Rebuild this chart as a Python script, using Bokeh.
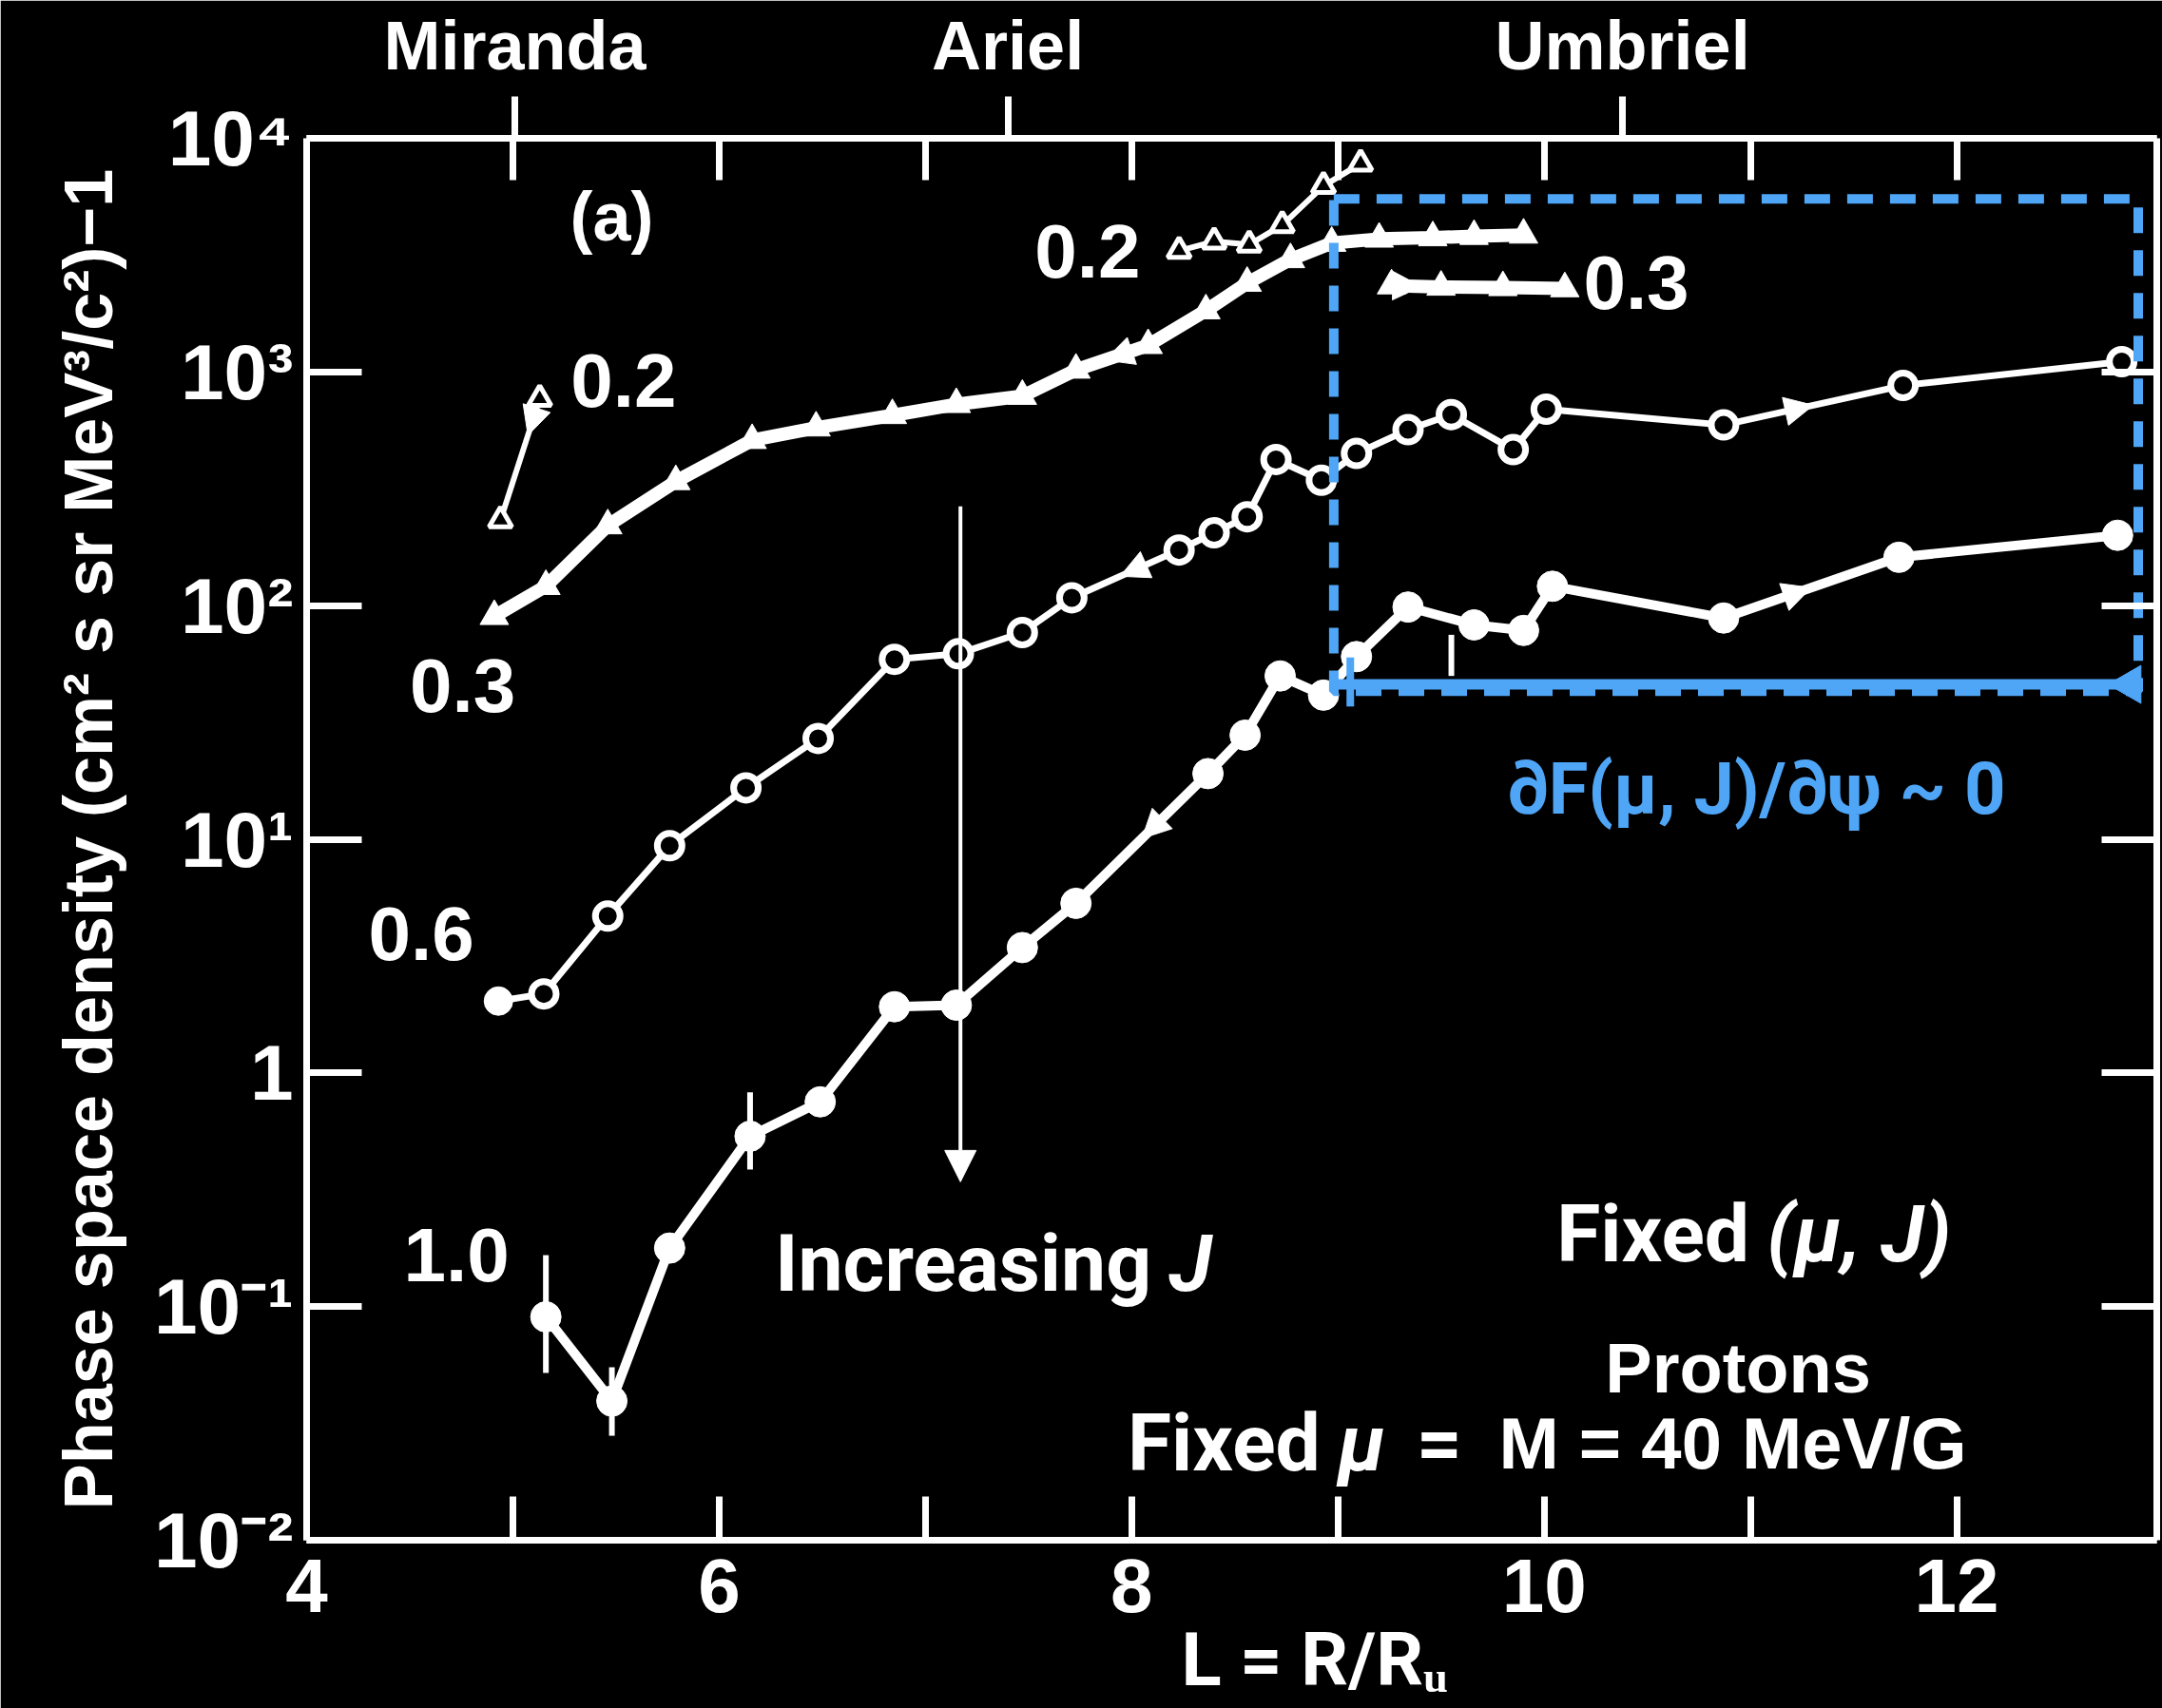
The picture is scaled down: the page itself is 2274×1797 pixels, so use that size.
import numpy as np
from bokeh.plotting import figure
from bokeh.models import (Range1d, LinearAxis, LogAxis, FixedTicker, ColumnDataSource,
                          Arrow, NormalHead, Label, Title)
from bokeh.embed import file_html
from bokeh.resources import INLINE

# ---------------- data (L = R/Ru, phase space density) ----------------
L_03a = [4.91, 5.16, 5.46, 5.79, 6.16, 6.47, 6.84, 7.15, 7.47, 7.73, 8.08, 8.36, 8.56, 8.77, 8.97, 9.20, 9.46, 9.66, 9.90]
F_03a = [90, 121, 220, 340, 510, 577, 652, 727, 788, 1020, 1300, 1830, 2400, 3030, 3560, 3710, 3760, 3810, 3860]

L_03b = [9.26, 9.50, 9.80, 10.10]
F_03b = [2340, 2310, 2300, 2275]

L_02lo = [5.13, 4.94]
F_02lo = [767, 232]

L_02hi = [8.23, 8.40, 8.57, 8.73, 8.93, 9.11]
F_02hi = [3300, 3620, 3510, 4250, 6250, 7790]

L_06 = [4.93, 5.15, 5.46, 5.76, 6.13, 6.48, 6.85, 7.16, 7.47, 7.71, 8.23, 8.40, 8.56, 8.70, 8.92, 9.09,
        9.34, 9.55, 9.85, 10.01, 10.87, 11.74, 12.80]
F_06 = [2.03, 2.18, 4.69, 9.38, 16.6, 27.0, 58.9, 62.2, 76.7, 108, 173, 205, 240, 422, 344, 448,
        566, 657, 465, 693, 593, 875, 1107]

L_10 = [5.16, 5.48, 5.76, 6.15, 6.49, 6.85, 7.15, 7.47, 7.73, 8.37, 8.55, 8.72, 8.93, 9.09, 9.34, 9.66,
        9.90, 10.04, 10.87, 11.72, 12.78]
F_10 = [0.0904, 0.0394, 0.178, 0.536, 0.752, 1.92, 1.95, 3.44, 5.32, 19.1, 27.9, 50.0, 41.4, 60.5, 98.6, 82.7,
        78.3, 121, 88.5, 161, 200]

L_err = [5.16, 5.48, 6.15, 9.55]
F_err_lo = [0.052, 0.028, 0.386, 50]
F_err_hi = [0.166, 0.055, 0.826, 75]

# curve labels (J values)
curve_labels = ["0.2", "0.3", "0.6", "1.0", "0.2", "0.3"]
curve_label_L = [5.28, 4.50, 4.30, 4.47, 7.53, 10.19]
curve_label_F = [916, 45.5, 3.94, 0.166, 3281, 2403]

# axes
y_ticks = [1e-2, 1e-1, 1, 10, 100, 1000, 10000]
y_tick_labels = ["10⁻²", "10⁻¹", "1", "10¹", "10²", "10³", "10⁴"]
x_ticks = [4, 6, 8, 10, 12]
x_minor = [5, 7, 9, 11]
top_minor = [5, 6, 7, 8, 9, 10, 11, 12]
moon_L = [5.01, 7.40, 10.38]
moon_names = ["Miranda", "Ariel", "Umbriel"]

# annotation region (dF/dpsi ~ 0)
box_L = [8.98, 12.88]
box_F = [43, 5500]

WHITE = "#ffffff"
BLUE = "#4fa5f6"
FIG_FONT = "Liberation Sans"
ANN_FONT = "Roboto"

p = figure(width=2274, height=1797, y_axis_type="log",
           x_axis_location=None, y_axis_location=None,
           x_range=Range1d(4, 12.97), y_range=Range1d(1e-2, 1e4),
           output_backend="svg", toolbar_location=None,
           background_fill_color="black", border_fill_color="black",
           min_border_left=322, min_border_right=6, min_border_top=145, min_border_bottom=177)
p.grid.visible = False
p.outline_line_color = None


def style_axis(ax, size="82px"):
    ax.axis_line_color = WHITE
    ax.axis_line_width = 7
    ax.major_tick_line_color = WHITE
    ax.major_tick_line_width = 7
    ax.minor_tick_line_color = WHITE
    ax.minor_tick_line_width = 7
    ax.major_label_text_color = WHITE
    ax.major_label_text_font = FIG_FONT
    ax.major_label_text_font_style = "bold"
    ax.major_label_text_font_size = size
    ax.axis_label_text_color = WHITE


left = LogAxis(ticker=FixedTicker(ticks=y_ticks),
               major_label_overrides=dict(zip(y_ticks, y_tick_labels)))
style_axis(left)
left.major_tick_in = 58
left.major_tick_out = 0
left.minor_tick_in = 0
left.minor_tick_out = 0
left.major_label_standoff = 14
left.axis_label = "Phase space density (cm² s sr MeV³/c²)−1"
left.axis_label_text_font = FIG_FONT
left.axis_label_text_font_style = "bold"
left.axis_label_text_font_size = "72px"
left.axis_label_standoff = 26
p.add_layout(left, "left")

right = LogAxis(ticker=FixedTicker(ticks=y_ticks),
                major_label_overrides={t: " " for t in y_ticks})
style_axis(right, "2px")
right.major_tick_in = 58
right.major_tick_out = 0
right.minor_tick_in = 0
right.minor_tick_out = 0
right.major_label_text_color = "black"
right.major_label_standoff = 0
p.add_layout(right, "right")

bottom = LinearAxis(ticker=FixedTicker(ticks=x_ticks, minor_ticks=x_minor))
style_axis(bottom, "80px")
bottom.major_tick_in = 46
bottom.major_tick_out = 0
bottom.minor_tick_in = 46
bottom.minor_tick_out = 0
bottom.major_label_standoff = 20
p.add_layout(bottom, "below")

p.add_layout(Title(text="L = R/Rᵤ", align="left", offset=920, standoff=0,
                   text_font=ANN_FONT, text_font_size="78px", text_font_style="bold",
                   text_color=WHITE), "below")

top = LinearAxis(ticker=FixedTicker(ticks=moon_L, minor_ticks=top_minor),
                 major_label_overrides=dict(zip(moon_L, moon_names)))
style_axis(top, "72px")
top.major_tick_in = 0
top.major_tick_out = 44
top.minor_tick_in = 44
top.minor_tick_out = 0
top.major_label_standoff = 14
p.add_layout(top, "above")

# ---------------- curves ----------------
p.line(L_03a, F_03a, line_color=WHITE, line_width=14)
p.scatter(L_03a, F_03a, marker="triangle", size=30, fill_color=WHITE, line_color=WHITE)
p.line(L_03b, F_03b, line_color=WHITE, line_width=14)
p.scatter(L_03b, F_03b, marker="triangle", size=30, fill_color=WHITE, line_color=WHITE)

p.line(L_02lo, F_02lo, line_color=WHITE, line_width=6)
p.scatter(L_02lo, F_02lo, marker="triangle", size=24, fill_color="black", line_color=WHITE, line_width=5)
p.line(L_02hi, F_02hi, line_color=WHITE, line_width=6)
p.scatter(L_02hi, F_02hi, marker="triangle", size=24, fill_color="black", line_color=WHITE, line_width=5)

p.line(L_06, F_06, line_color=WHITE, line_width=7)
p.scatter(L_06[1:], F_06[1:], marker="circle", size=26, fill_color="black", line_color=WHITE, line_width=7)
p.scatter(L_06[:1], F_06[:1], marker="circle", size=30, fill_color=WHITE, line_color=WHITE)

p.segment(x0=L_err, y0=F_err_lo, x1=L_err, y1=F_err_hi, line_color=WHITE, line_width=6)
p.line(L_10, F_10, line_color=WHITE, line_width=10)
p.scatter(L_10, F_10, marker="circle", size=32, fill_color=WHITE, line_color=WHITE)

# direction arrowheads placed between consecutive measured points
def head_between(Ls, Fs, i, j, t=0.5):
    xe = Ls[i] + t * (Ls[j] - Ls[i])
    ye = 10 ** (np.log10(Fs[i]) + t * (np.log10(Fs[j]) - np.log10(Fs[i])))
    return float(Ls[i]), float(Fs[i]), float(xe), float(ye)

heads = [head_between(L_03a, F_03a, 10, 9, 0.6), head_between(L_06, F_06, 10, 9, 0.55),
         head_between(L_10, F_10, 9, 8, 0.5), head_between(L_06, F_06, 20, 21, 0.5),
         head_between(L_10, F_10, 18, 19, 0.5), head_between(L_03b, F_03b, 0, 1, 0.6),
         head_between(L_02lo, F_02lo, 0, 1, 0.3)]
hsrc = ColumnDataSource(dict(x0=[h[0] for h in heads], y0=[h[1] for h in heads],
                             x1=[h[2] for h in heads], y1=[h[3] for h in heads]))
p.add_layout(Arrow(end=NormalHead(size=30, fill_color=WHITE, line_color=WHITE),
                   x_start="x0", y_start="y0", x_end="x1", y_end="y1",
                   line_alpha=0, source=hsrc))

# ---------------- highlighted region ----------------
p.line([box_L[0], box_L[1], box_L[1], box_L[0], box_L[0]],
       [box_F[1], box_F[1], box_F[0], box_F[0], box_F[1]],
       line_color=BLUE, line_width=10, line_dash="27 18")
bracket_F = 46
p.segment(x0=[box_L[0]], y0=[bracket_F], x1=[box_L[1]], y1=[bracket_F], line_color=BLUE, line_width=11)
p.segment(x0=[box_L[0] + 0.08], y0=[37], x1=[box_L[0] + 0.08], y1=[60], line_color=BLUE, line_width=8)
p.scatter([box_L[1] - 0.04], [bracket_F], marker="triangle", angle=np.pi / 2, size=40,
          fill_color=BLUE, line_color=BLUE)

# "Increasing J" arrow
p.add_layout(Arrow(end=NormalHead(size=33, fill_color=WHITE, line_color=WHITE),
                   x_start=7.17, y_start=266, x_end=7.17, y_end=0.342,
                   line_color=WHITE, line_width=4))

# ---------------- texts ----------------
def lab(x, y, text, size, font=FIG_FONT, style="bold", color=WHITE, align="left"):
    p.add_layout(Label(x=x, y=y, text=text, text_font=font, text_font_size=size,
                       text_font_style=style, text_color=color, text_align=align,
                       text_baseline="middle"))

for t, lx, ly in zip(curve_labels, curve_label_L, curve_label_F):
    lab(lx, ly, t, "80px")
lab(5.48, 4613, "(a)", "72px", align="center")
lab(10.94, 0.0546, "Protons", "74px", align="center")
lab(9.78, 0.0259, "M = 40 MeV/G", "76px")

lab(6.27, 0.153, "Increasing", "84px", font=ANN_FONT)
lab(8.18, 0.153, "J", "84px", font=ANN_FONT, style="bold italic")
lab(10.06, 0.204, "Fixed", "84px", font=ANN_FONT)
lab(11.08, 0.204, "(μ, J)", "84px", font=ANN_FONT, style="bold italic")
lab(7.98, 0.0259, "Fixed", "84px", font=ANN_FONT)
lab(9.00, 0.0259, "μ", "84px", font=ANN_FONT, style="bold italic")
lab(9.38, 0.0259, "=", "84px", font=ANN_FONT)
lab(9.82, 16.4, "∂F(μ, J)/∂ψ ~ 0", "76px", font=ANN_FONT, color=BLUE)

open("out.html", "w").write(file_html(p, INLINE))
